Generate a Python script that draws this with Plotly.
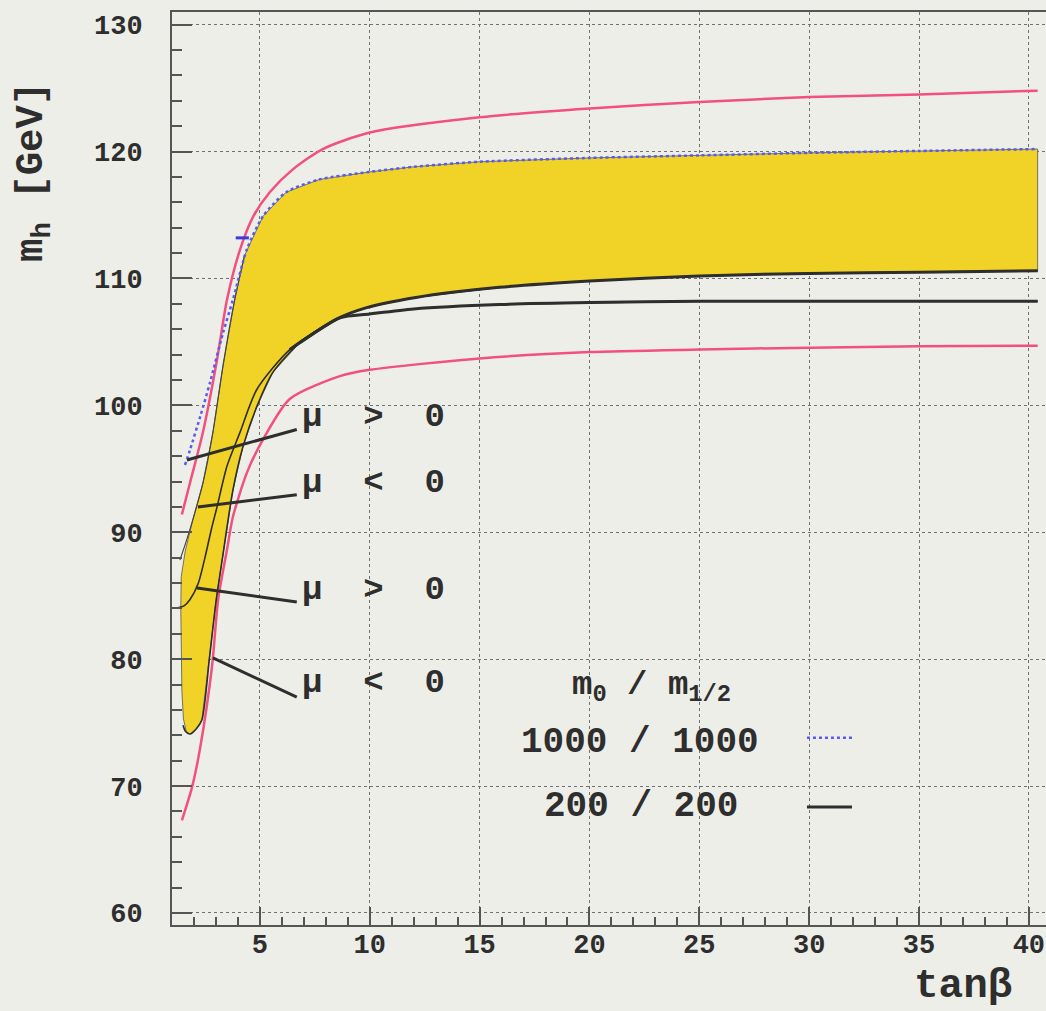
import plotly.graph_objects as go

# ---------------- data ----------------
pink_up_x = [1.45, 1.82, 2.41, 3.05, 3.5, 4.1, 4.7, 5.45, 6.5, 7.86, 10, 15, 20, 25, 30, 35, 40.4]
pink_up_y = [91.4, 93.9, 97.9, 103.6, 108.3, 112.3, 114.9, 116.8, 118.6, 120.2, 121.5, 122.7, 123.4, 123.9, 124.3, 124.5, 124.8]

pink_lo_x = [1.45, 1.91, 2.27, 2.82, 3.1, 3.5, 3.77, 4.41, 5.14, 6.36, 8.64, 10, 15, 20, 25, 30, 35, 40.4]
pink_lo_y = [67.3, 69.9, 72.9, 79.4, 84.7, 88.6, 91.2, 94.7, 97.3, 100.5, 102.3, 102.8, 103.7, 104.2, 104.4, 104.55, 104.65, 104.7]

# 1000/1000, mu>0 (blue dotted)
blue_x = [1.59, 1.82, 2.3, 2.73, 3.32, 3.77, 4.41, 5.14, 6.2, 7.7, 10, 12, 15, 20, 25, 30, 35, 40.4]
blue_y = [95.3, 96.5, 99.2, 101.8, 105.7, 108.3, 112.3, 114.9, 116.8, 117.8, 118.4, 118.8, 119.2, 119.5, 119.7, 119.9, 120.05, 120.2]
blue_mark_x = [3.9, 4.5]
blue_mark_y = [113.2, 113.2]

# 1000/1000, mu<0 (left edge of band)
m1neg_x = [1.36, 1.65, 1.95, 2.41, 2.86, 3.32, 3.85, 4.3]
m1neg_y = [87.8, 89.3, 91.0, 93.9, 97.85, 103.1, 108.3, 111.8]

# 200/200, mu>0
c1_x = [1.27, 1.55, 1.82, 2.2, 2.5, 2.8, 3.05, 3.5, 4.09, 4.86, 6.36, 8.5, 9.86, 12.1, 15.9, 20, 25, 30, 35, 40.4]
c1_y = [84.05, 84.2, 84.7, 86.0, 88.0, 90.3, 92.0, 95.2, 97.85, 101.25, 104.4, 106.8, 107.7, 108.5, 109.3, 109.8, 110.2, 110.4, 110.5, 110.6]

# 200/200, mu<0
c2_x = [1.5, 1.62, 1.82, 2.1, 2.36, 2.7, 3.0, 3.3, 3.77, 4.23, 4.86, 5.59, 6.82, 8.64, 10, 12, 15.9, 20, 25, 30, 40.4]
c2_y = [74.8, 74.3, 74.1, 74.5, 75.2, 80.0, 84.5, 88.0, 93.3, 96.75, 99.9, 102.6, 104.95, 106.9, 107.2, 107.6, 107.95, 108.1, 108.2, 108.2, 108.2]

# yellow band: upper/left edge and lower edge (both from the bottom tip)
band_up_x = [1.82, 1.65, 1.52, 1.45, 1.42, 1.40, 1.42, 1.6, 1.95, 2.41, 2.86, 3.32, 3.85, 4.3, 5.14, 6.2, 7.7, 10, 12, 15, 20, 25, 30, 35, 40.4]
band_up_y = [74.1, 74.3, 75.3, 77.5, 80.5, 84.0, 86.5, 88.5, 91.0, 93.9, 97.85, 103.1, 108.3, 111.8, 114.9, 116.8, 117.8, 118.4, 118.8, 119.2, 119.5, 119.7, 119.9, 120.05, 120.2]
band_lo_x = [1.82, 2.1, 2.36, 2.7, 3.0, 3.3, 3.77, 4.23, 4.86, 5.59, 6.82, 8.64, 9.86, 12.1, 15.9, 20, 25, 30, 35, 40.4]
band_lo_y = [74.1, 74.5, 75.2, 80.0, 84.5, 88.0, 93.3, 96.75, 99.9, 102.6, 104.95, 107.0, 107.7, 108.5, 109.3, 109.8, 110.2, 110.4, 110.5, 110.6]

# label leader lines (curve point -> label)
lead_x0 = [1.68, 2.18, 2.14, 2.86]
lead_y0 = [95.7, 92.0, 85.6, 80.1]
lead_x1 = [6.68, 6.68, 6.68, 6.68]
lead_y1 = [98.1, 92.95, 84.5, 77.0]
label_texts = ["μ  >  0", "μ  <  0", "μ  >  0", "μ  <  0"]
label_y = [99.1, 93.9, 85.46, 78.1]

legend_title = "m<sub>0</sub> / m<sub>1/2</sub>"
legend_texts = ["1000 / 1000", "200 / 200"]

x_ticks = [5, 10, 15, 20, 25, 30, 35, 40]
y_ticks = [60, 70, 80, 90, 100, 110, 120, 130]

# ---------------- styles ----------------
BG = "#eeeee8"
YELLOW = "#f1d227"
PINK = "#f2507f"
BLUE = "#5a5af0"
DARK = "#2e2e2e"
FONT = "Liberation Mono"
SM = 0.7

fig = go.Figure()

# yellow band
poly_x = band_lo_x + band_up_x[::-1]
poly_y = band_lo_y + band_up_y[::-1]
fig.add_trace(go.Scatter(x=poly_x, y=poly_y, fill="toself", fillcolor=YELLOW,
                         mode="lines", line=dict(color="#555555", width=0.8),
                         hoverinfo="skip", showlegend=False))

# pink lines
fig.add_trace(go.Scatter(x=pink_up_x, y=pink_up_y, mode="lines",
                         line=dict(color=PINK, width=2.5, shape="spline", smoothing=SM), showlegend=False))
fig.add_trace(go.Scatter(x=pink_lo_x, y=pink_lo_y, mode="lines",
                         line=dict(color=PINK, width=2.5, shape="spline", smoothing=SM), showlegend=False))

# 1000/1000 mu<0 edge
fig.add_trace(go.Scatter(x=m1neg_x, y=m1neg_y, mode="lines",
                         line=dict(color="#444444", width=1.2, shape="spline", smoothing=SM), showlegend=False))

# 200/200 curves (thin part, then thick asymptotic part)
for cx, cy in [(c1_x, c1_y), (c2_x, c2_y)]:
    fig.add_trace(go.Scatter(x=cx, y=cy, mode="lines",
                             line=dict(color=DARK, width=1.6, shape="spline", smoothing=SM), showlegend=False))
    tx = [a for a in cx if a >= 6.3]
    ty = [b for a, b in zip(cx, cy) if a >= 6.3]
    fig.add_trace(go.Scatter(x=tx, y=ty, mode="lines",
                             line=dict(color=DARK, width=3, shape="spline", smoothing=SM), showlegend=False))

# blue dotted
fig.add_trace(go.Scatter(x=blue_x, y=blue_y, mode="lines",
                         line=dict(color=BLUE, width=2.5, dash="dot", shape="spline", smoothing=SM), showlegend=False))
fig.add_trace(go.Scatter(x=blue_mark_x, y=blue_mark_y, mode="lines",
                         line=dict(color="#3a3ae0", width=3), showlegend=False))

# leader lines
for x0, y0, x1, y1 in zip(lead_x0, lead_y0, lead_x1, lead_y1):
    fig.add_shape(type="line", x0=x0, y0=y0, x1=x1, y1=y1, xref="x", yref="y",
                  line=dict(color=DARK, width=3))

# mu labels
for t, yy in zip(label_texts, label_y):
    fig.add_annotation(x=6.82, y=yy, xref="x", yref="y", text="<b>" + t + "</b>",
                       showarrow=False, xanchor="left", yanchor="middle",
                       font=dict(family=FONT, size=34, color=DARK))

# legend block
fig.add_annotation(x=19.1, y=77.8, xref="x", yref="y", text="<b>" + legend_title + "</b>",
                   showarrow=False, xanchor="left", yanchor="middle",
                   font=dict(family=FONT, size=34, color=DARK))
fig.add_annotation(x=16.8, y=73.4, xref="x", yref="y", text="<b>" + legend_texts[0] + "</b>",
                   showarrow=False, xanchor="left", yanchor="middle",
                   font=dict(family=FONT, size=36, color=DARK))
fig.add_annotation(x=17.86, y=68.35, xref="x", yref="y", text="<b>" + legend_texts[1] + "</b>",
                   showarrow=False, xanchor="left", yanchor="middle",
                   font=dict(family=FONT, size=36, color=DARK))
fig.add_shape(type="line", x0=29.9, x1=32.05, y0=73.8, y1=73.8, xref="x", yref="y",
              line=dict(color=BLUE, width=2.5, dash="dot"))
fig.add_shape(type="line", x0=29.9, x1=31.95, y0=68.35, y1=68.35, xref="x", yref="y",
              line=dict(color=DARK, width=3))

# axis titles
fig.add_annotation(x=0.963, y=-0.0668, xref="paper", yref="paper", text="<b>tanβ</b>",
                   showarrow=False, xanchor="right", yanchor="middle",
                   font=dict(family=FONT, size=41, color=DARK))
fig.add_annotation(x=-0.158, y=0.8247, xref="paper", yref="paper",
                   text="<b>m<sub>h</sub> [GeV]</b>", textangle=-90,
                   showarrow=False, xanchor="center", yanchor="middle",
                   font=dict(family=FONT, size=39, color=DARK))

fig.update_layout(
    width=1046, height=1011,
    margin=dict(l=172, r=0, t=12, b=86),
    paper_bgcolor=BG, plot_bgcolor=BG,
    showlegend=False,
)
fig.update_xaxes(
    range=[1, 40.78], tickmode="array", tickvals=x_ticks,
    ticktext=["<b>%d</b>" % v for v in x_ticks],
    ticks="inside", ticklen=18, tickwidth=2, tickcolor="#555555",
    minor=dict(dtick=1, tick0=0, ticks="inside", ticklen=8, tickwidth=1.5, tickcolor="#555555", showgrid=False),
    showline=True, linecolor="#555555", linewidth=2, mirror=True,
    showgrid=True, gridcolor="#707070", gridwidth=1, griddash="dot",
    tickfont=dict(family=FONT, size=27, color=DARK), ticklabelstandoff=-6,
    zeroline=False,
)
fig.update_yaxes(
    range=[59.05, 131.0], tickmode="array", tickvals=y_ticks,
    ticktext=["<b>%d</b>" % v for v in y_ticks],
    ticks="inside", ticklen=20, tickwidth=2, tickcolor="#555555",
    minor=dict(dtick=2, tick0=0, ticks="inside", ticklen=10, tickwidth=1.5, tickcolor="#555555", showgrid=False),
    showline=True, linecolor="#555555", linewidth=2, mirror=False,
    showgrid=True, gridcolor="#707070", gridwidth=1, griddash="dot",
    tickfont=dict(family=FONT, size=27, color=DARK), ticklabelstandoff=22,
    zeroline=False,
)

fig.write_html("out.html")
